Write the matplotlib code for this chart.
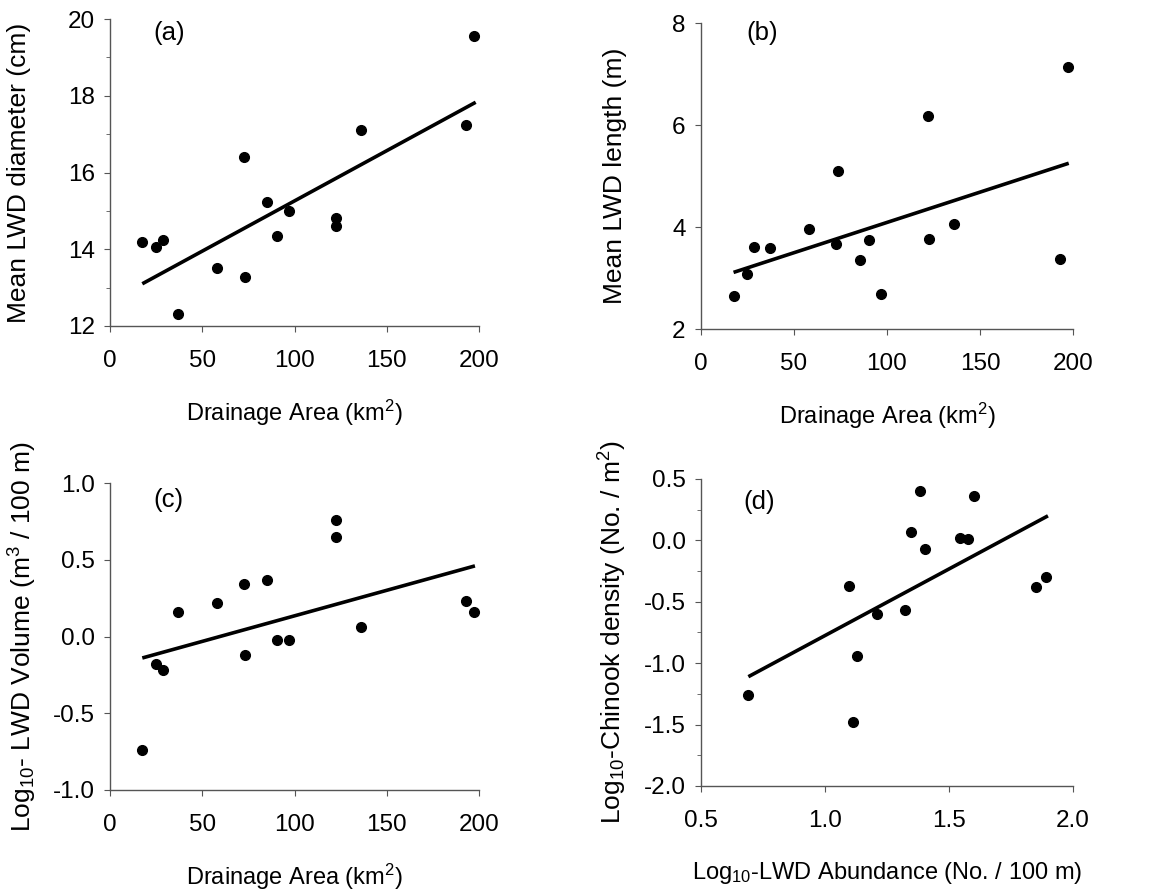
import numpy as np
import matplotlib.pyplot as plt
from matplotlib.ticker import MultipleLocator

plt.rcParams['font.family'] = ['Liberation Sans', 'DejaVu Sans']
plt.rcParams['mathtext.fontset'] = 'custom'
plt.rcParams['mathtext.rm'] = 'Liberation Sans'
plt.rcParams['mathtext.it'] = 'Liberation Sans'

# drainage area (km2), shared by panels a-c
area = [17.5, 24.9, 28.7, 37.0, 58.2, 72.6, 73.4, 85.3, 90.5, 96.8,
        122.3, 122.5, 135.9, 193.0, 197.1]
diameter = [14.19, 14.06, 14.24, 12.31, 13.50, 16.40, 13.27, 15.22, 14.35,
            15.00, 14.82, 14.60, 17.12, 17.24, 19.56]
length = [2.64, 3.08, 3.61, 3.58, 3.97, 3.67, 5.09, 3.36, 3.74, 2.68,
          6.18, 3.76, 4.05, 3.37, 7.13]
volume = [-0.74, -0.18, -0.22, 0.16, 0.22, 0.34, -0.12, 0.37, -0.02, -0.02,
          0.76, 0.65, 0.06, 0.23, 0.16]

# panel d
abundance = [0.691, 1.097, 1.112, 1.130, 1.210, 1.324, 1.345, 1.384, 1.403,
             1.543, 1.575, 1.601, 1.849, 1.890]
chinook = [-1.26, -0.37, -1.48, -0.94, -0.60, -0.57, 0.07, 0.40, -0.07,
           0.02, 0.01, 0.36, -0.38, -0.30]

# fitted lines (x0, y0, x1, y1)
fit_a = [17.5, 13.10, 198.2, 17.83]
fit_b = [17.5, 3.11, 197.7, 5.25]
fit_c = [17.5, -0.14, 197.8, 0.46]
fit_d = [0.691, -1.11, 1.899, 0.20]

W, H = 1176, 894
fig = plt.figure(figsize=(W / 100, H / 100), dpi=100)


def make_ax(l, r, t, b):
    return fig.add_axes([l / W, 1 - b / H, (r - l) / W, (b - t) / H])


def style(ax, xlim, ylim, xstep, ystep, yminor=None):
    ax.set_xlim(*xlim)
    ax.set_ylim(*ylim)
    ax.xaxis.set_major_locator(MultipleLocator(xstep))
    ax.yaxis.set_major_locator(MultipleLocator(ystep))
    if yminor:
        ax.yaxis.set_minor_locator(MultipleLocator(yminor))
    for s in ['top', 'right']:
        ax.spines[s].set_visible(False)
    for s in ['left', 'bottom']:
        ax.spines[s].set_color('#555555')
        ax.spines[s].set_linewidth(1.0)
    ax.tick_params(which='both', direction='out', color='#555555',
                   labelsize=17.5)
    ax.tick_params(axis='x', pad=13)
    ax.tick_params(axis='y', pad=7)
    ax.tick_params(which='major', length=4)
    ax.tick_params(which='minor', length=3)
    ax.patch.set_alpha(0)


def draw(ax, x, y, fit):
    ax.plot(x, y, 'o', color='black', markersize=7, clip_on=False)
    ax.plot([fit[0], fit[2]], [fit[1], fit[3]], color='black', lw=2.6,
            solid_capstyle='butt')


def labels(ax, xl, yl, ylx, tag, tx, ty):
    ax.set_xlabel(xl, fontsize=17, va='center')
    ax.xaxis.set_label_coords(0.5, -0.284)
    ax.set_ylabel(yl, fontsize=19, va='center')
    ax.yaxis.set_label_coords(ylx, 0.5)
    ax.text(tx, ty, tag, transform=ax.transAxes, fontsize=18.5,
            ha='left', va='center')


ax_a = make_ax(110, 479, 19, 326)
style(ax_a, (0, 200), (12, 20), 50, 2, 1)
draw(ax_a, area, diameter, fit_a)
ax_a.set_yticks([12, 14, 16, 18, 20])
labels(ax_a, 'Drainage Area (km$^2$)', 'Mean LWD diameter (cm)', -0.247,
       '(a)', 0.117, 0.954)

ax_b = make_ax(701, 1073, 23, 329)
style(ax_b, (0, 200), (2, 8), 50, 2)
draw(ax_b, area, length, fit_b)
labels(ax_b, 'Drainage Area (km$^2$)', 'Mean LWD length (m)', -0.231,
       '(b)', 0.121, 0.967)

ax_c = make_ax(110, 479, 483, 790)
style(ax_c, (0, 200), (-1, 1), 50, 0.5)
draw(ax_c, area, volume, fit_c)
ax_c.yaxis.set_major_formatter(lambda v, p: f'{v:.1f}')
labels(ax_c, 'Drainage Area (km$^2$)', 'Log$_{10}$- LWD Volume (m$^3$ / 100 m)',
       -0.236, '(c)', 0.117, 0.945)

ax_d = make_ax(701, 1073, 479, 786)
style(ax_d, (0.5, 2.0), (-2.0, 0.5), 0.5, 0.5, 0.25)
draw(ax_d, abundance, chinook, fit_d)
ax_d.xaxis.set_major_formatter(lambda v, p: f'{v:.1f}')
ax_d.yaxis.set_major_formatter(lambda v, p: f'{v:.1f}')
labels(ax_d, 'Log$_{10}$-LWD Abundance (No. / 100 m)',
       'Log$_{10}$-Chinook density (No. / m$^2$)', -0.237,
       '(d)', 0.113, 0.925)

fig.savefig('out.png', dpi=100)
